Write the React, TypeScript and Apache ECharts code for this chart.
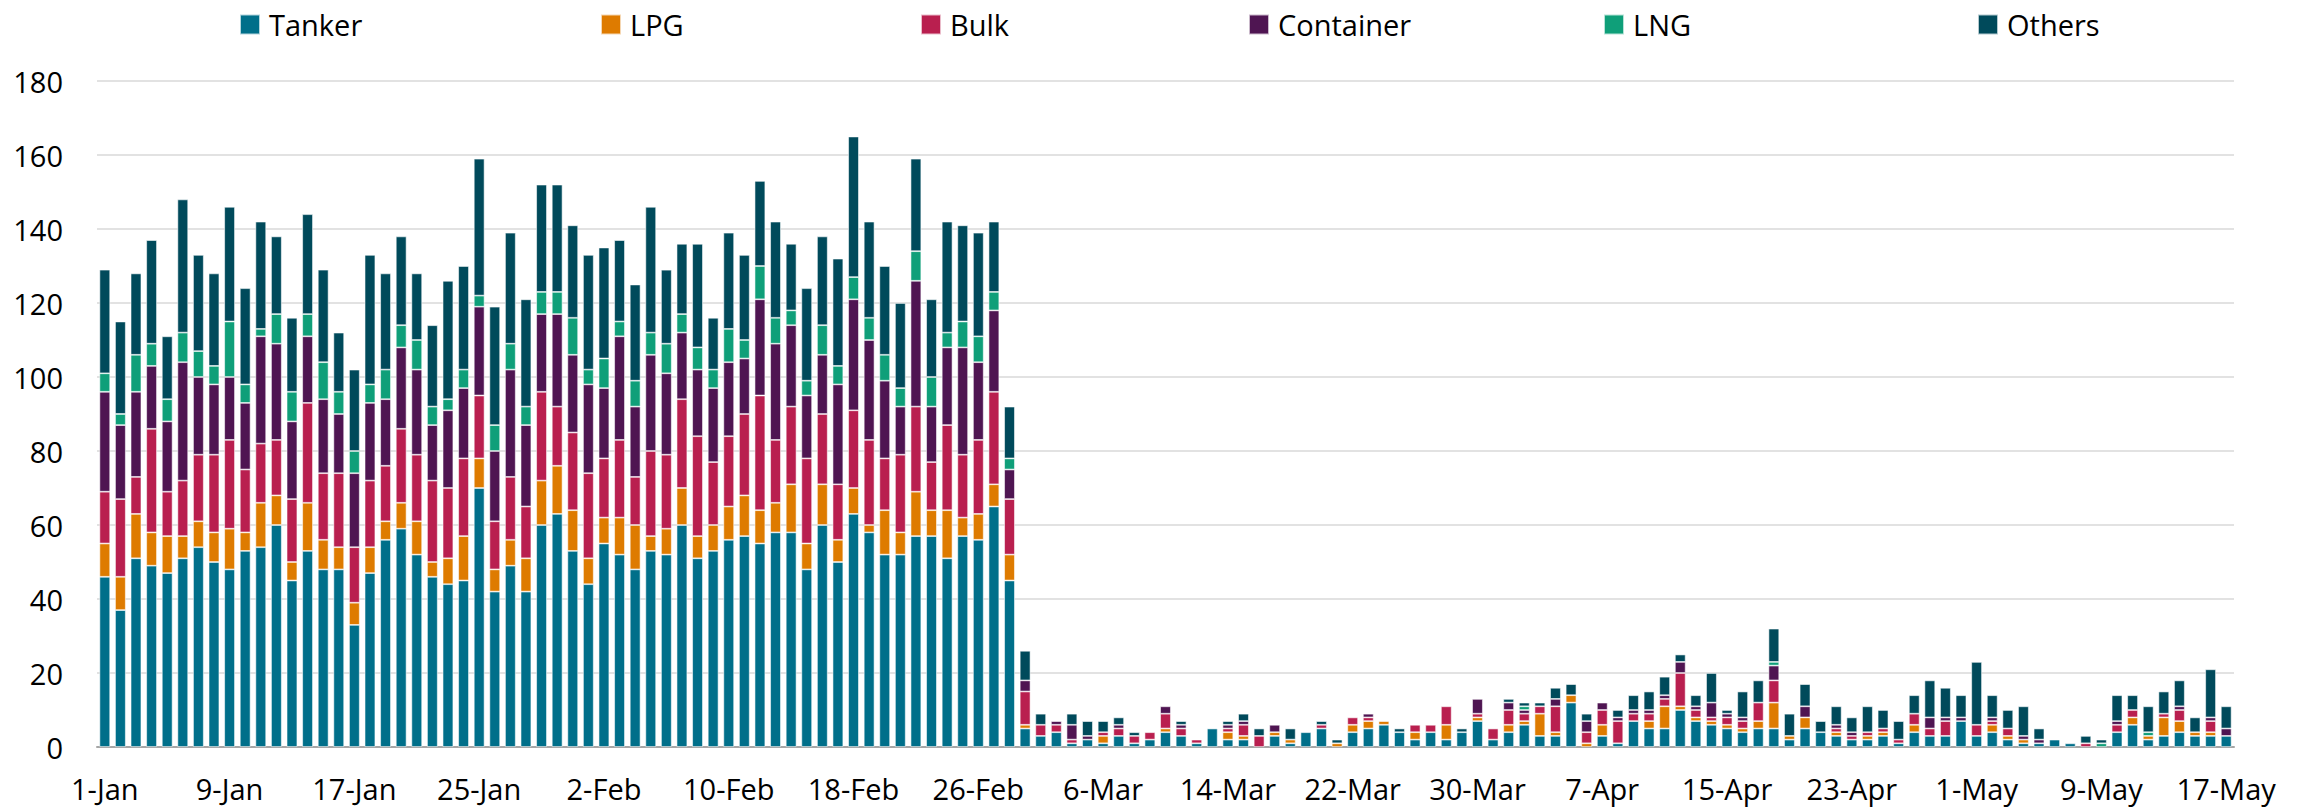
import React, { useEffect, useRef } from "react";
import * as echarts from "echarts";

// Categories: daily, 1-Jan to 17-May
const MONTHS = ["Jan", "Feb", "Mar", "Apr", "May"];
const MONTH_DAYS = [31, 28, 31, 30, 31];
const DAY_COUNT = 137;
const categories: string[] = [];
for (let m = 0; m < MONTHS.length && categories.length < DAY_COUNT; m++) {
  for (let d = 1; d <= MONTH_DAYS[m] && categories.length < DAY_COUNT; d++) {
    categories.push(`${d}-${MONTHS[m]}`);
  }
}

const SERIES_NAMES = ["Tanker", "LPG", "Bulk", "Container", "LNG", "Others"];
const SERIES_COLORS = ["#006F8A", "#DE7B00", "#B91F4F", "#4F1552", "#0F9F79", "#004A5B"];

const tanker = [
  46, 37, 51, 49, 47, 51, 54, 50, 48, 53,
  54, 60, 45, 53, 48, 48, 33, 47, 56, 59,
  52, 46, 44, 45, 70, 42, 49, 42, 60, 63,
  53, 44, 55, 52, 48, 53, 52, 60, 51, 53,
  56, 57, 55, 58, 58, 48, 60, 50, 63, 58,
  52, 52, 57, 57, 51, 57, 56, 65, 45, 5,
  3, 4, 1, 2, 1, 3, 1, 2, 4, 3,
  1, 5, 2, 2, 0, 3, 1, 4, 5, 0,
  4, 5, 6, 4, 2, 4, 2, 4, 7, 2,
  4, 6, 3, 3, 12, 0, 3, 1, 7, 5,
  5, 10, 7, 6, 5, 4, 5, 5, 2, 5,
  4, 3, 2, 2, 3, 1, 4, 3, 3, 7,
  3, 4, 2, 1, 1, 2, 1, 0, 0, 4,
  6, 2, 3, 4, 3, 3, 3,
];
const lpg = [
  9, 9, 12, 9, 10, 6, 7, 8, 11, 5,
  12, 8, 5, 13, 8, 6, 6, 7, 5, 7,
  9, 4, 7, 12, 8, 6, 7, 9, 12, 13,
  11, 7, 7, 10, 12, 4, 7, 10, 6, 7,
  9, 11, 9, 8, 13, 7, 11, 6, 7, 2,
  12, 6, 12, 7, 13, 5, 7, 6, 7, 1,
  0, 0, 0, 0, 2, 0, 0, 0, 1, 0,
  0, 0, 2, 1, 0, 1, 1, 0, 0, 1,
  2, 2, 1, 0, 2, 0, 4, 0, 1, 0,
  2, 1, 6, 1, 2, 1, 3, 0, 0, 2,
  6, 1, 1, 1, 1, 1, 2, 7, 1, 3,
  0, 1, 0, 1, 1, 0, 2, 0, 0, 0,
  0, 2, 1, 1, 0, 0, 0, 0, 0, 0,
  2, 1, 5, 3, 1, 1, 0,
];
const bulk = [
  14, 21, 10, 28, 12, 15, 18, 21, 24, 17,
  16, 15, 17, 27, 18, 20, 15, 18, 15, 20,
  18, 22, 19, 21, 17, 13, 17, 14, 24, 16,
  21, 23, 16, 21, 13, 23, 20, 24, 27, 17,
  19, 22, 31, 17, 21, 23, 19, 15, 21, 23,
  14, 21, 23, 13, 23, 17, 20, 25, 15, 9,
  3, 2, 1, 0, 1, 2, 2, 2, 4, 2,
  1, 0, 1, 3, 3, 0, 0, 0, 1, 0,
  2, 1, 0, 0, 2, 2, 5, 0, 1, 3,
  4, 2, 2, 7, 0, 3, 4, 6, 2, 2,
  2, 9, 2, 1, 2, 2, 5, 6, 0, 0,
  0, 1, 1, 1, 1, 1, 3, 2, 4, 0,
  3, 1, 2, 0, 0, 0, 0, 1, 0, 2,
  2, 0, 1, 3, 0, 3, 0,
];
const container = [
  27, 20, 23, 17, 19, 32, 21, 19, 17, 18,
  29, 26, 21, 18, 20, 16, 20, 21, 18, 22,
  23, 15, 21, 19, 24, 19, 29, 22, 21, 25,
  21, 24, 19, 28, 19, 26, 22, 18, 18, 20,
  20, 15, 26, 26, 22, 17, 16, 27, 30, 27,
  21, 13, 34, 15, 21, 29, 21, 22, 8, 3,
  0, 1, 4, 1, 0, 1, 0, 0, 2, 1,
  0, 0, 1, 1, 0, 2, 0, 0, 0, 0,
  0, 1, 0, 0, 0, 0, 0, 0, 4, 0,
  2, 1, 0, 2, 0, 3, 2, 1, 1, 1,
  1, 3, 1, 4, 1, 1, 0, 4, 0, 3,
  0, 1, 1, 0, 0, 0, 0, 3, 1, 1,
  0, 1, 0, 1, 1, 0, 0, 0, 0, 1,
  0, 0, 0, 1, 0, 1, 2,
];
const lng = [
  5, 3, 10, 6, 6, 8, 7, 5, 15, 5,
  2, 8, 8, 6, 10, 6, 6, 5, 8, 6,
  8, 5, 3, 5, 3, 7, 7, 5, 6, 6,
  10, 4, 8, 4, 7, 6, 8, 5, 6, 5,
  9, 5, 9, 7, 4, 4, 8, 5, 6, 6,
  7, 5, 8, 8, 4, 7, 7, 5, 3, 0,
  0, 0, 0, 0, 0, 0, 0, 0, 0, 0,
  0, 0, 0, 0, 0, 0, 0, 0, 0, 0,
  0, 0, 0, 0, 0, 0, 0, 0, 0, 0,
  0, 1, 0, 0, 0, 0, 0, 0, 0, 0,
  0, 0, 0, 0, 0, 0, 0, 1, 0, 0,
  0, 0, 0, 0, 0, 0, 0, 0, 0, 0,
  0, 0, 0, 0, 0, 0, 0, 0, 1, 0,
  0, 1, 0, 0, 0, 0, 0,
];
const others = [
  28, 25, 22, 28, 17, 36, 26, 25, 31, 26,
  29, 21, 20, 27, 25, 16, 22, 35, 26, 24,
  18, 22, 32, 28, 37, 32, 30, 29, 29, 29,
  25, 31, 30, 22, 26, 34, 20, 19, 28, 14,
  26, 23, 23, 26, 18, 25, 24, 29, 38, 26,
  24, 23, 25, 21, 30, 26, 28, 19, 14, 8,
  3, 0, 3, 4, 3, 2, 1, 0, 0, 1,
  0, 0, 1, 2, 2, 0, 3, 0, 1, 1,
  0, 0, 0, 1, 0, 0, 0, 1, 0, 0,
  1, 1, 1, 3, 3, 2, 0, 2, 4, 5,
  5, 2, 3, 8, 1, 7, 6, 9, 6, 6,
  3, 5, 4, 7, 5, 5, 5, 10, 8, 6,
  17, 6, 5, 8, 3, 0, 0, 2, 1, 7,
  4, 7, 6, 7, 4, 13, 6,
];

const SERIES_VALUES = [tanker, lpg, bulk, container, lng, others];
const Y_MAX = 180;
const Y_STEP = 20;
const LABEL_EVERY = 8;

const FONT = "'Open Sans', 'Noto Sans', sans-serif";
const LEGEND_LEFTS = [234, 595, 915, 1243, 1598, 1972];

export default function App() {
  const ref = useRef<HTMLDivElement>(null);

  useEffect(() => {
    if (!ref.current) return;
    const chart = echarts.init(ref.current, undefined, { renderer: "svg" });
    const option: any = {
      animation: false,
      backgroundColor: "#ffffff",
      color: SERIES_COLORS,
      legend: SERIES_NAMES.map((name, i) => ({
        data: [name],
        left: LEGEND_LEFTS[i],
        top: 5,
        icon: "rect",
        itemWidth: 20,
        itemHeight: 20,
        selectedMode: false,
        textStyle: {
          fontFamily: FONT,
          fontSize: 29,
          color: "#000",
          padding: [0, 0, 0, 4],
        },
      })),
      grid: { left: 97, right: 76, top: 81, bottom: 62, containLabel: false },
      xAxis: {
        type: "category",
        data: categories,
        boundaryGap: true,
        axisLine: { show: true, lineStyle: { color: "#A6A6A6", width: 2 } },
        axisTick: { show: false },
        axisLabel: {
          interval: LABEL_EVERY - 1,
          fontFamily: FONT,
          fontSize: 29,
          color: "#000",
          margin: 27,
        },
        splitLine: { show: false },
      },
      yAxis: {
        type: "value",
        min: 0,
        max: Y_MAX,
        interval: Y_STEP,
        axisLine: { show: false },
        axisTick: { show: false },
        axisLabel: {
          fontFamily: FONT,
          fontSize: 29,
          color: "#000",
          margin: 34,
        },
        splitLine: { show: true, lineStyle: { color: "#D9D9D9", width: 1.5 } },
      },
      series: SERIES_NAMES.map((name, i) => ({
        name,
        type: "bar",
        stack: "total",
        barCategoryGap: "31%",
        data: SERIES_VALUES[i].map((v) => (v === 0 ? null : v)),
        itemStyle: {
          color: SERIES_COLORS[i],
          borderColor: "rgba(255,255,255,0.7)",
          borderWidth: 0.8,
        },
      })),
    };
    chart.setOption(option);
    return () => chart.dispose();
  }, []);

  return (
    <div
      ref={ref}
      style={{ position: "absolute", left: 0, top: 0, width: 2310, height: 809 }}
    />
  );
}
